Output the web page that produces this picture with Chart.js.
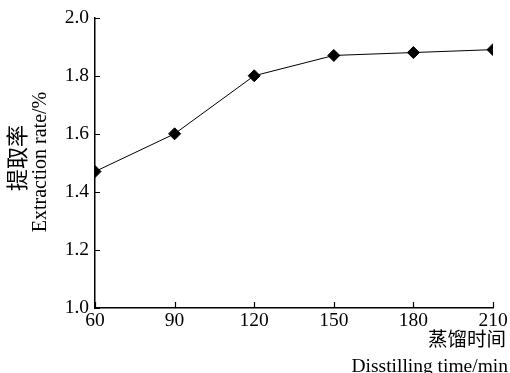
<!DOCTYPE html>
<html>
<head>
<meta charset="utf-8">
<script src="https://cdn.jsdelivr.net/npm/chart.js@4/dist/chart.umd.min.js"></script>
<style>
  html, body { margin: 0; padding: 0; background: #fff; }
  #wrap { width: 510px; height: 373px; }
</style>
</head>
<body>
<div id="wrap"><canvas id="chart"></canvas></div>
<script>
const times = [60, 90, 120, 150, 180, 210];
const extractionRate = [1.47, 1.60, 1.80, 1.87, 1.88, 1.89];
const yTitleCn = "提取率";
const yTitleEn = "Extraction rate/%";
const xTitleCn = "蒸馏时间";
const xTitleEn = "Disstilling time/min";

const FONT = "'Liberation Serif', 'Noto Sans CJK SC', serif";

// ticks pointing into the plot, plus the two-line axis titles
const axisExtras = {
  id: "axisExtras",
  afterDraw(chart) {
    const { ctx, chartArea, scales: { x, y } } = chart;
    ctx.save();
    ctx.strokeStyle = "#000";
    ctx.lineWidth = 1.2;
    ctx.beginPath();
    y.ticks.forEach(t => {
      const py = Math.round(y.getPixelForValue(t.value)) + 0.5;
      ctx.moveTo(chartArea.left, py);
      ctx.lineTo(chartArea.left + 5, py);
    });
    x.ticks.forEach(t => {
      const px = Math.round(x.getPixelForValue(t.value)) + 0.5;
      ctx.moveTo(px, chartArea.bottom);
      ctx.lineTo(px, chartArea.bottom - 6);
    });
    ctx.stroke();

    ctx.fillStyle = "#000";
    ctx.textAlign = "center";
    ctx.textBaseline = "middle";
    // y title
    ctx.save();
    ctx.translate(19, 158);
    ctx.rotate(-Math.PI / 2);
    ctx.font = "22px " + FONT;
    ctx.fillText(yTitleCn, 0, 0);
    ctx.restore();
    ctx.save();
    ctx.translate(41, 162);
    ctx.rotate(-Math.PI / 2);
    ctx.font = "20px " + FONT;
    ctx.fillText(yTitleEn, 0, 0);
    ctx.restore();
    // x title
    ctx.textAlign = "right";
    ctx.font = "19.5px " + FONT;
    ctx.fillText(xTitleCn, 506, 341);
    ctx.font = "19.5px " + FONT;
    ctx.fillText(xTitleEn, 508, 367);
    ctx.restore();
  }
};

new Chart(document.getElementById("chart"), {
  type: "line",
  data: {
    datasets: [{
      data: times.map((t, i) => ({ x: t, y: extractionRate[i] })),
      borderColor: "#000",
      backgroundColor: "#000",
      borderWidth: 1,
      pointStyle: "rectRot",
      pointRadius: 6,
      pointHoverRadius: 6,
      tension: 0
    }]
  },
  options: {
    responsive: true,
    maintainAspectRatio: false,
    animation: false,
    layout: { padding: { left: 0, right: 17, top: 16, bottom: 0 } },
    plugins: { legend: { display: false }, tooltip: { enabled: false } },
    scales: {
      x: {
        type: "linear",
        min: 60,
        max: 210,
        afterBuildTicks: scale => { scale.ticks = times.map(v => ({ value: v })); },
        afterFit: scale => { scale.height = 65; },
        grid: { display: true, drawOnChartArea: false, drawTicks: false },
        border: { display: true, color: "#000", width: 1.5 },
        ticks: { color: "#000", font: { family: FONT, size: 19.5 }, padding: 1, maxRotation: 0 }
      },
      y: {
        min: 1.0,
        max: 2.0,
        afterFit: scale => { scale.width = 95; },
        grid: { display: true, drawOnChartArea: false, drawTicks: false },
        border: { display: true, color: "#000", width: 1.5 },
        ticks: {
          stepSize: 0.2,
          color: "#000",
          font: { family: FONT, size: 19.5 },
          padding: 6,
          callback: v => v.toFixed(1)
        }
      }
    }
  },
  plugins: [axisExtras]
});
</script>
</body>
</html>
